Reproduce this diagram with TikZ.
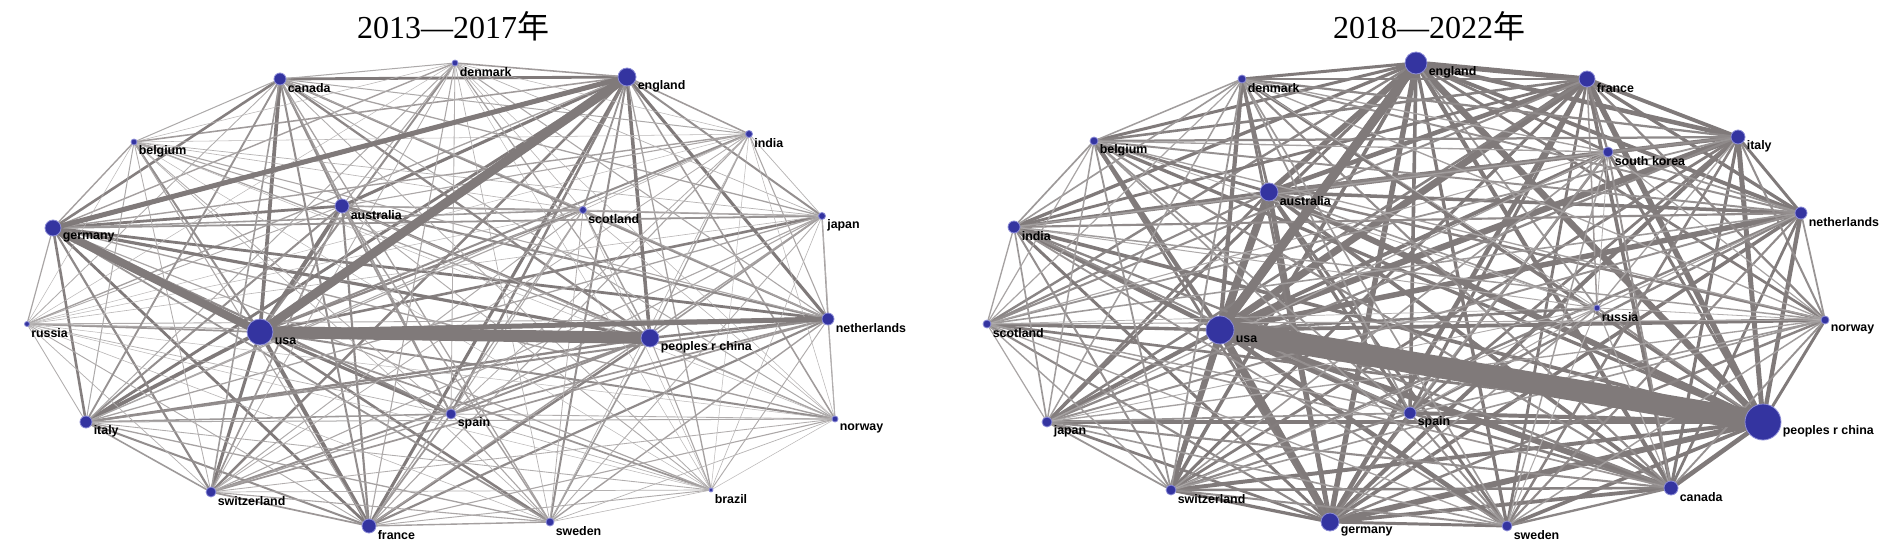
\documentclass[tikz,border=0pt]{standalone}
\usepackage{fontspec}
\setmainfont{Liberation Serif}
\newfontfamily\labelfont{Liberation Sans}
\newfontfamily\cjkfont{Noto Sans CJK SC}
\usetikzlibrary{backgrounds}

\definecolor{linkgray}{RGB}{128,122,122}
\definecolor{dotblue}{RGB}{52,52,160}
\definecolor{rimblue}{RGB}{140,140,215}

% country/weight lists for the all-pairs links
\def\nodesA{usa1/13,england1/10,germany1/9,china1/8,australia1/7,france1/7,netherlands1/7,canada1/6.5,italy1/6.5,spain1/5.5,switzerland1/5.5,sweden1/4.5,japan1/4.5,scotland1/4,india1/3.5,belgium1/3.5,denmark1/3.5,norway1/3.5,russia1/3,brazil1/3}
\def\nodesB{usa2/14,china2/11,england2/10,australia2/9,germany2/9,france2/8.5,italy2/7.5,canada2/7,netherlands2/6.5,spain2/6,switzerland2/6,india2/5.5,sweden2/5.5,japan2/5,belgium2/5,denmark2/5,skorea2/4.5,norway2/4.5,scotland2/4,russia2/3}

\begin{document}
\begin{tikzpicture}[x=0.5pt,y=-0.5pt,
    dot/.style={circle,draw=rimblue,line width=0.4pt,fill=dotblue,inner sep=0pt},
    lbl/.style={font=\labelfont\bfseries\fontsize{6.2}{7}\selectfont,yshift=-4.5pt,inner sep=0.5pt},
    link/.style={draw=linkgray,line cap=round},
    heading/.style={font=\fontsize{16}{18}\selectfont}]
    \useasboundingbox (0,0) rectangle (1890,551);

    % 2013--2017
    \node[heading] (title1) at (453,26) {2013—2017{\cjkfont 年}};
    \node[dot,minimum size=3pt,label={[lbl]right:denmark}] (denmark1) at (455,63) {};
    \node[dot,minimum size=6pt,label={[lbl]right:canada}] (canada1) at (280,79) {};
    \node[dot,minimum size=9pt,label={[lbl]right:england}] (england1) at (627,77) {};
    \node[dot,minimum size=3pt,label={[lbl]right:belgium}] (belgium1) at (134,142) {};
    \node[dot,minimum size=3.5pt,label={[lbl]right:india}] (india1) at (749,134) {};
    \node[dot,minimum size=7pt,label={[lbl]right:australia}] (australia1) at (342,206) {};
    \node[dot,minimum size=3.5pt,label={[lbl]right:scotland}] (scotland1) at (583,210) {};
    \node[dot,minimum size=8pt,label={[lbl]right:germany}] (germany1) at (53,228) {};
    \node[dot,minimum size=3.5pt,label={[lbl]right:japan}] (japan1) at (822,216) {};
    \node[dot,minimum size=2.5pt,label={[lbl]right:russia}] (russia1) at (27,324) {};
    \node[dot,minimum size=13pt,label={[lbl]right:usa}] (usa1) at (260,332) {};
    \node[dot,minimum size=9pt,label={[lbl]right:peoples r china}] (china1) at (650,338) {};
    \node[dot,minimum size=6pt,label={[lbl]right:netherlands}] (netherlands1) at (828,319) {};
    \node[dot,minimum size=6pt,label={[lbl]right:italy}] (italy1) at (86,422) {};
    \node[dot,minimum size=5pt,label={[lbl]right:spain}] (spain1) at (451,414) {};
    \node[dot,minimum size=3pt,label={[lbl]right:norway}] (norway1) at (835,419) {};
    \node[dot,minimum size=5pt,label={[lbl]right:switzerland}] (switzerland1) at (211,492) {};
    \node[dot,minimum size=2pt,label={[lbl]right:brazil}] (brazil1) at (711,490) {};
    \node[dot,minimum size=7pt,label={[lbl]right:france}] (france1) at (369,526) {};
    \node[dot,minimum size=4pt,label={[lbl]right:sweden}] (sweden1) at (550,522) {};

    % 2018--2022
    \node[heading] (title2) at (1429,26) {2018—2022{\cjkfont 年}};
    \node[dot,minimum size=11pt,label={[lbl]right:england}] (england2) at (1416,63) {};
    \node[dot,minimum size=4pt,label={[lbl]right:denmark}] (denmark2) at (1242,79) {};
    \node[dot,minimum size=8pt,label={[lbl]right:france}] (france2) at (1587,79) {};
    \node[dot,minimum size=4pt,label={[lbl]right:belgium}] (belgium2) at (1094,141) {};
    \node[dot,minimum size=7pt,label={[lbl]right:italy}] (italy2) at (1738,137) {};
    \node[dot,minimum size=5pt,label={[lbl]right:south korea}] (skorea2) at (1608,152) {};
    \node[dot,minimum size=9pt,label={[lbl]right:australia}] (australia2) at (1269,192) {};
    \node[dot,minimum size=6pt,label={[lbl]right:india}] (india2) at (1014,227) {};
    \node[dot,minimum size=6pt,label={[lbl]right:netherlands}] (netherlands2) at (1801,213) {};
    \node[dot,minimum size=4pt,label={[lbl]right:scotland}] (scotland2) at (987,324) {};
    \node[dot,minimum size=14pt,label={[lbl]right:usa}] (usa2) at (1220,330) {};
    \node[dot,minimum size=3pt,label={[lbl]right:russia}] (russia2) at (1597,308) {};
    \node[dot,minimum size=4pt,label={[lbl]right:norway}] (norway2) at (1825,320) {};
    \node[dot,minimum size=5pt,label={[lbl]right:japan}] (japan2) at (1047,422) {};
    \node[dot,minimum size=6pt,label={[lbl]right:spain}] (spain2) at (1410,413) {};
    \node[dot,minimum size=18pt,label={[lbl]right:peoples r china}] (china2) at (1763,422) {};
    \node[dot,minimum size=5pt,label={[lbl]right:switzerland}] (switzerland2) at (1171,490) {};
    \node[dot,minimum size=7pt,label={[lbl]right:canada}] (canada2) at (1671,488) {};
    \node[dot,minimum size=9pt,label={[lbl]right:germany}] (germany2) at (1330,522) {};
    \node[dot,minimum size=5pt,label={[lbl]right:sweden}] (sweden2) at (1507,526) {};

    \begin{scope}[on background layer]
        \fill[white] (0,0) rectangle (1890,551);
        % every pair, width from the two weights, thin ones lighter
        \foreach \p/\wp [count=\i] in \nodesA {
            \foreach \q/\wq [count=\j] in \nodesA {
                \ifnum\j>\i
                    \pgfmathsetmacro\w{max(0.25,0.022*\wp*\wq)}
                    \pgfmathtruncatemacro\shade{min(100,45+40*\w)}
                    \draw[link,draw=linkgray!\shade!white,line width=\w pt] (\p) -- (\q);
                \fi
            }
        }
        \foreach \p/\wp [count=\i] in \nodesB {
            \foreach \q/\wq [count=\j] in \nodesB {
                \ifnum\j>\i
                    \pgfmathsetmacro\w{max(0.25,0.03*\wp*\wq)}
                    \pgfmathtruncatemacro\shade{min(100,45+40*\w)}
                    \draw[link,draw=linkgray!\shade!white,line width=\w pt] (\p) -- (\q);
                \fi
            }
        }
        % strongest ties
        \draw[link,line width=6pt] (usa1) -- (china1);
        \draw[link,line width=4.5pt] (usa1) -- (england1);
        \draw[link,line width=4pt] (germany1) -- (usa1);
        \draw[link,line width=2.5pt] (germany1) -- (england1);
        \draw[link,line width=2.5pt] (usa1) -- (netherlands1);
        \draw[link,line width=11pt] (usa2) -- (china2);
        \draw[link,line width=4.5pt] (usa2) -- (england2);
    \end{scope}
\end{tikzpicture}
\end{document}
